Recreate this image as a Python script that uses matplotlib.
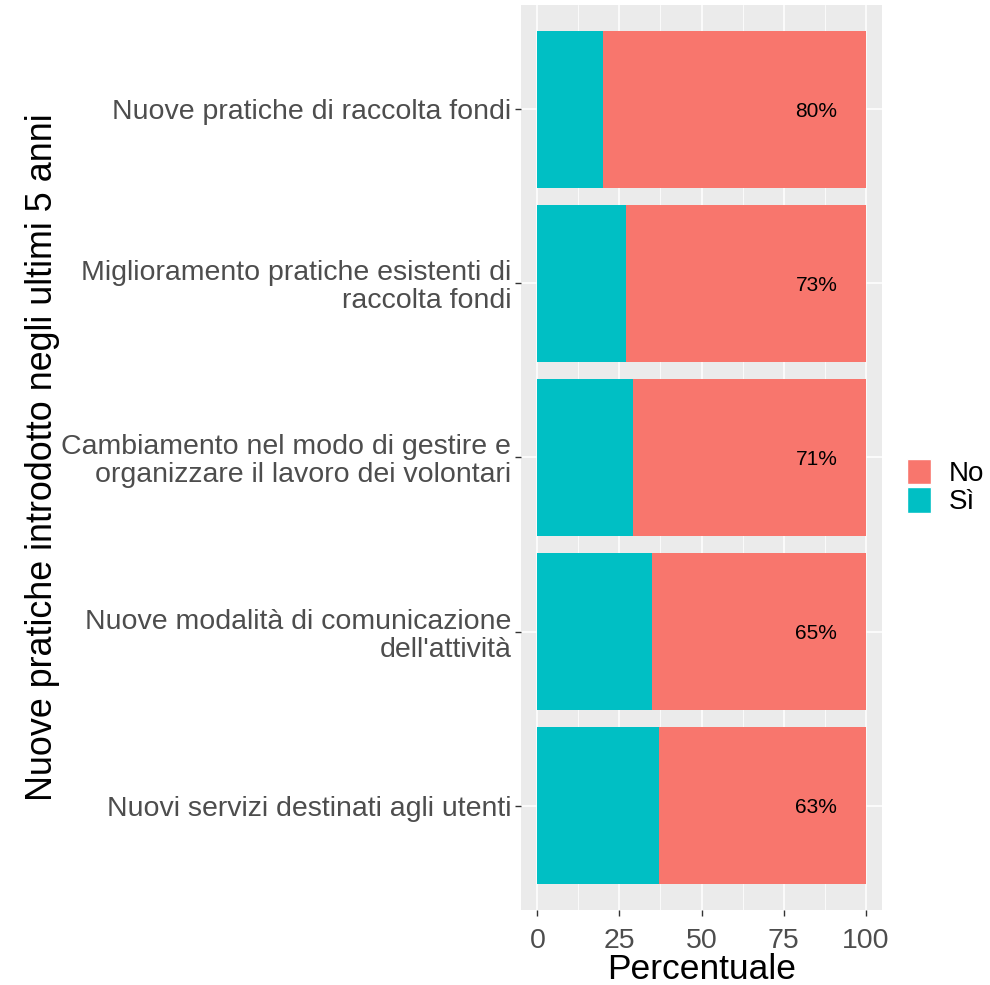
import matplotlib
matplotlib.use("Agg")
import matplotlib.pyplot as plt
from matplotlib.patches import Patch
import numpy as np

plt.rcParams['font.family'] = ['Liberation Sans', 'DejaVu Sans']

categories = [
    "Nuove pratiche di raccolta fondi",
    "Miglioramento pratiche esistenti di\nraccolta fondi",
    "Cambiamento nel modo di gestire e\norganizzare il lavoro dei volontari",
    "Nuove modalità di comunicazione\ndell'attività",
    "Nuovi servizi destinati agli utenti",
]
si_values = [20, 27, 29, 35, 37]
no_values = [80, 73, 71, 65, 63]
no_labels = ["80%", "73%", "71%", "65%", "63%"]
label_pos = 85
x_ticks = [0, 25, 50, 75, 100]

col_no = "#F8766D"
col_si = "#00BFC4"

fig = plt.figure(figsize=(9.9, 9.85), dpi=100)
W, H = 990, 985
ax = fig.add_axes([521 / W, 1 - 910 / H, (882 - 521) / W, (910 - 5) / H])
ax.set_facecolor("#EBEBEB")

n = len(categories)
ypos = np.arange(n)[::-1] + 1  # top is first

ax.barh(ypos, si_values, height=0.9, color=col_si, zorder=3)
ax.barh(ypos, no_values, left=si_values, height=0.9, color=col_no, zorder=3)
for y, lab in zip(ypos, no_labels):
    ax.text(label_pos, y - 0.01, lab, ha="center", va="center", fontsize=15, color="black", zorder=4)

ax.set_xlim(-5, 105)
ax.set_ylim(0.4, n + 0.6)
ax.set_xticks(x_ticks)
ax.set_xticks([12.5, 37.5, 62.5, 87.5], minor=True)
ax.set_yticks(ypos)
ax.set_yticklabels(categories, fontsize=20.5, color="#4D4D4D", ha="right", multialignment="right",
                   linespacing=1.1)
ax.set_xticklabels([str(t) for t in x_ticks], fontsize=20.5, color="#4D4D4D")
ax.tick_params(axis="both", which="major", length=4, width=1, color="#333333")
ax.tick_params(axis="x", which="major", pad=9)
ax.tick_params(axis="y", which="major", pad=3)
ax.tick_params(axis="x", which="minor", length=0)
ax.grid(True, which="major", color="white", linewidth=1.1, zorder=0)
ax.grid(True, which="minor", axis="x", color="white", linewidth=0.55, zorder=0)
ax.set_axisbelow(True)
for s in ax.spines.values():
    s.set_visible(False)

ax.set_xlabel("Percentuale", fontsize=25.5, color="black", labelpad=-1)
ax.set_ylabel("Nuove pratiche introdotto negli ultimi 5 anni", fontsize=25.8, color="black", labelpad=1)

handles = [Patch(facecolor=col_no, edgecolor="white", linewidth=1),
           Patch(facecolor=col_si, edgecolor="white", linewidth=1)]
fig.legend(handles, ["No", "Sì"], loc="center left", bbox_to_anchor=(896 / W, 1 - 487 / H),
           frameon=False, fontsize=20, handlelength=0.85, handleheight=1.05,
           handletextpad=0.65, labelspacing=0.0, borderpad=0.2, borderaxespad=0.2)

fig.savefig("out.png", dpi=100, facecolor="white")
